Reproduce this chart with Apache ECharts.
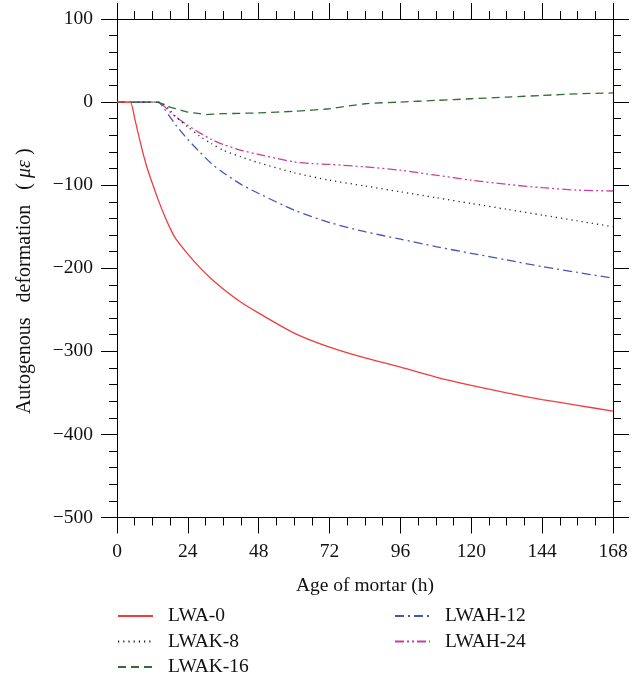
<!DOCTYPE html>
<html>
<head>
<meta charset="utf-8">
<script src="https://cdn.jsdelivr.net/npm/echarts@6/dist/echarts.min.js"></script>
<style>
html,body{margin:0;padding:0;background:#fff;}
#chart{width:638px;height:680px;}
</style>
</head>
<body>
<div id="chart"></div>
<script>
// ---- data (hours, microstrain) ----
const seriesNames = ['LWA-0', 'LWAK-8', 'LWAK-16', 'LWAH-12', 'LWAH-24'];

const lwa0Hours  = [0, 4, 4.6, 6, 8, 10, 12, 14, 16, 18, 20, 24, 28, 32, 36, 42, 48, 60, 72, 84, 96, 108, 120, 132, 144, 156, 168];
const lwa0Values = [0, 0, 0, -20, -50, -77, -98, -118, -136, -152, -165, -183, -199, -213, -225, -241, -254, -278, -295, -308, -319, -331, -341, -350, -358, -365, -372];

const lwak8Hours  = [0, 13, 14, 16, 18, 20, 24, 28, 32, 36, 42, 48, 60, 72, 84, 96, 108, 120, 132, 144, 156, 168];
const lwak8Values = [0, 0, 0, -3, -10, -18, -30, -41, -50, -58, -66, -73, -85, -94, -101, -108, -115, -122, -129, -136, -143, -150];

const lwak16Hours  = [0, 12.5, 13.4, 16, 18, 20, 24, 28, 30, 36, 48, 60, 72, 84, 96, 108, 120, 132, 144, 156, 168];
const lwak16Values = [0, 0, 0, -3, -6, -8, -12, -14, -15, -14, -13, -11, -8, -2, 0, 2, 4, 6, 8, 10, 11];

const lwah12Hours  = [0, 13, 14, 16, 18, 20, 24, 28, 32, 36, 42, 48, 60, 72, 84, 96, 108, 120, 132, 144, 156, 168];
const lwah12Values = [0, 0, 0, -8, -18, -28, -45, -60, -74, -85, -99, -110, -130, -145, -156, -165, -174, -182, -190, -198, -205, -212];

const lwah24Hours  = [0, 13, 14, 16, 18, 20, 24, 28, 32, 36, 42, 48, 60, 66, 72, 84, 96, 108, 120, 132, 144, 156, 168];
const lwah24Values = [0, 0, 0, -5, -12, -18, -28, -37, -45, -51, -58, -63, -72, -74, -75, -78, -82, -88, -94, -99, -103, -106, -107];

const xTicks = [0, 24, 48, 72, 96, 120, 144, 168];
const yTicks = [100, 0, -100, -200, -300, -400, -500];

// ---- chart ----
const pair = (xs, ys) => xs.map((x, i) => [x, ys[i]]);
const FONT = '"Liberation Serif", "DejaVu Serif", serif';
const FS = 19.5;

const styles = [
  { color: '#f23c3c', type: 'solid' },
  { color: '#222222', type: [1.2, 4] },
  { color: '#2f6e33', type: [8, 5] },
  { color: '#4457b5', type: [9, 4, 2, 4] },
  { color: '#cc3d9c', type: [9, 3, 2, 3, 2, 3] }
];
const datasets = [
  pair(lwa0Hours, lwa0Values),
  pair(lwak8Hours, lwak8Values),
  pair(lwak16Hours, lwak16Values),
  pair(lwah12Hours, lwah12Values),
  pair(lwah24Hours, lwah24Values)
];

const minus = v => String(v).replace('-', '\u2212');

const xMin = xTicks[0], xMax = xTicks[xTicks.length - 1], xInt = xTicks[1] - xTicks[0];
const yMin = yTicks[yTicks.length - 1], yMax = yTicks[0], yInt = yTicks[0] - yTicks[1];

function xAx(pos, show) {
  return {
    type: 'value', position: pos, min: xMin, max: xMax, interval: xInt,
    axisLine: { show: true, onZero: false, lineStyle: { color: '#000', width: 1 } },
    axisTick: { show: true, inside: false, length: 16, lineStyle: { color: '#000', width: 1 } },
    minorTick: { show: true, splitNumber: 4, length: 8, lineStyle: { color: '#000', width: 1 } },
    splitLine: { show: false },
    axisLabel: { show: show, margin: 24, color: '#111', fontFamily: FONT, fontSize: FS, formatter: minus },
    name: show ? 'Age of mortar (h)' : '',
    nameLocation: 'middle', nameGap: 58,
    nameTextStyle: { color: '#111', fontFamily: FONT, fontSize: FS }
  };
}
function yAx(pos, show) {
  return {
    type: 'value', position: pos, min: yMin, max: yMax, interval: yInt,
    axisLine: { show: true, onZero: false, lineStyle: { color: '#000', width: 1 } },
    axisTick: { show: true, inside: false, length: 16, lineStyle: { color: '#000', width: 1 } },
    minorTick: { show: true, splitNumber: 5, length: 8, lineStyle: { color: '#000', width: 1 } },
    splitLine: { show: false },
    axisLabel: { show: show, margin: 24, color: '#111', fontFamily: FONT, fontSize: FS, formatter: minus },
    name: show ? 'Autogenous{g| }deformation{g| }({p| }{i|\u03bc\u03b5}{p| })' : '',
    nameLocation: 'middle', nameGap: 82,
    nameTextStyle: { color: '#111', fontFamily: FONT, fontSize: 20, padding: [0, 26, 0, 0],
      rich: {
        i: { fontStyle: 'italic', fontFamily: FONT, fontSize: 20, color: '#111' },
        g: { width: 15, fontSize: 20 },
        p: { width: 5, fontSize: 20 }
      } }
  };
}

const chart = echarts.init(document.getElementById('chart'), null, { renderer: 'canvas' });
const legendBase = {
  top: 606, orient: 'vertical', padding: 0,
  itemWidth: 35, itemHeight: 14, itemGap: 5.5,
  itemStyle: { opacity: 0 },
  textStyle: { fontFamily: FONT, fontSize: FS, color: '#111', lineHeight: 20, padding: [0, 0, 0, 10] }
};
chart.setOption({
  backgroundColor: '#fff',
  animation: false,
  grid: { left: 117, right: 25, top: 19, bottom: 162.5, containLabel: false },
  xAxis: [xAx('bottom', true), xAx('top', false)],
  yAxis: [yAx('left', true), yAx('right', false)],
  legend: [
    Object.assign({}, legendBase, { left: 117, data: seriesNames.slice(0, 3) }),
    Object.assign({}, legendBase, { left: 394, data: seriesNames.slice(3) })
  ],
  series: seriesNames.map((n, i) => ({
    name: n, type: 'line', xAxisIndex: 0, yAxisIndex: 0,
    data: datasets[i], showSymbol: false, symbol: 'none',
    smooth: 0.25,
    z: 10 - i,
    itemStyle: { color: styles[i].color },
    lineStyle: { color: styles[i].color, type: styles[i].type, width: 1.3 }
  }))
});
</script>
</body>
</html>
